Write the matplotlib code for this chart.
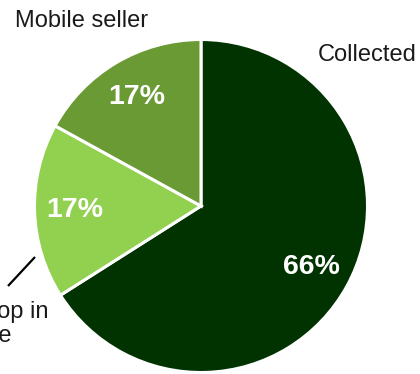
import matplotlib
matplotlib.use("Agg")
import matplotlib.pyplot as plt

plt.rcParams['font.family'] = ['Liberation Sans', 'DejaVu Sans']

labels = ['Collected', 'Local shop in\nvillage', 'Mobile seller']
shares = [66, 17, 17]
colors = ['#003300', '#92d050', '#6a9a34']

fig = plt.figure(figsize=(4.2, 3.74), dpi=100)
ax = fig.add_axes([0, 0, 1, 1])

wedges, texts, autotexts = ax.pie(
    shares, colors=colors, startangle=90, counterclock=False,
    center=(201, 168), radius=166.5, autopct='%d%%', pctdistance=0.76,
    wedgeprops=dict(edgecolor='white', linewidth=2.2),
    textprops=dict(color='white', fontsize=20.5, fontweight='bold'))

# category labels sit outside the pie
ax.text(367, 319, labels[0], fontsize=17, ha='center', va='center', color='#1a1a1a')
ax.text(81.5, 353, labels[2], fontsize=17, ha='center', va='center', color='#1a1a1a')
ax.text(-21, 50, labels[1], fontsize=17, ha='center', va='center',
        multialignment='center', color='#1a1a1a', linespacing=1.15)
ax.plot([8, 35], [88, 117], color='black', lw=1.6, solid_capstyle='butt')

ax.set_xlim(0, 420)
ax.set_ylim(0, 374)
ax.set_aspect('equal')
ax.axis('off')

fig.savefig('out.png', dpi=100)
